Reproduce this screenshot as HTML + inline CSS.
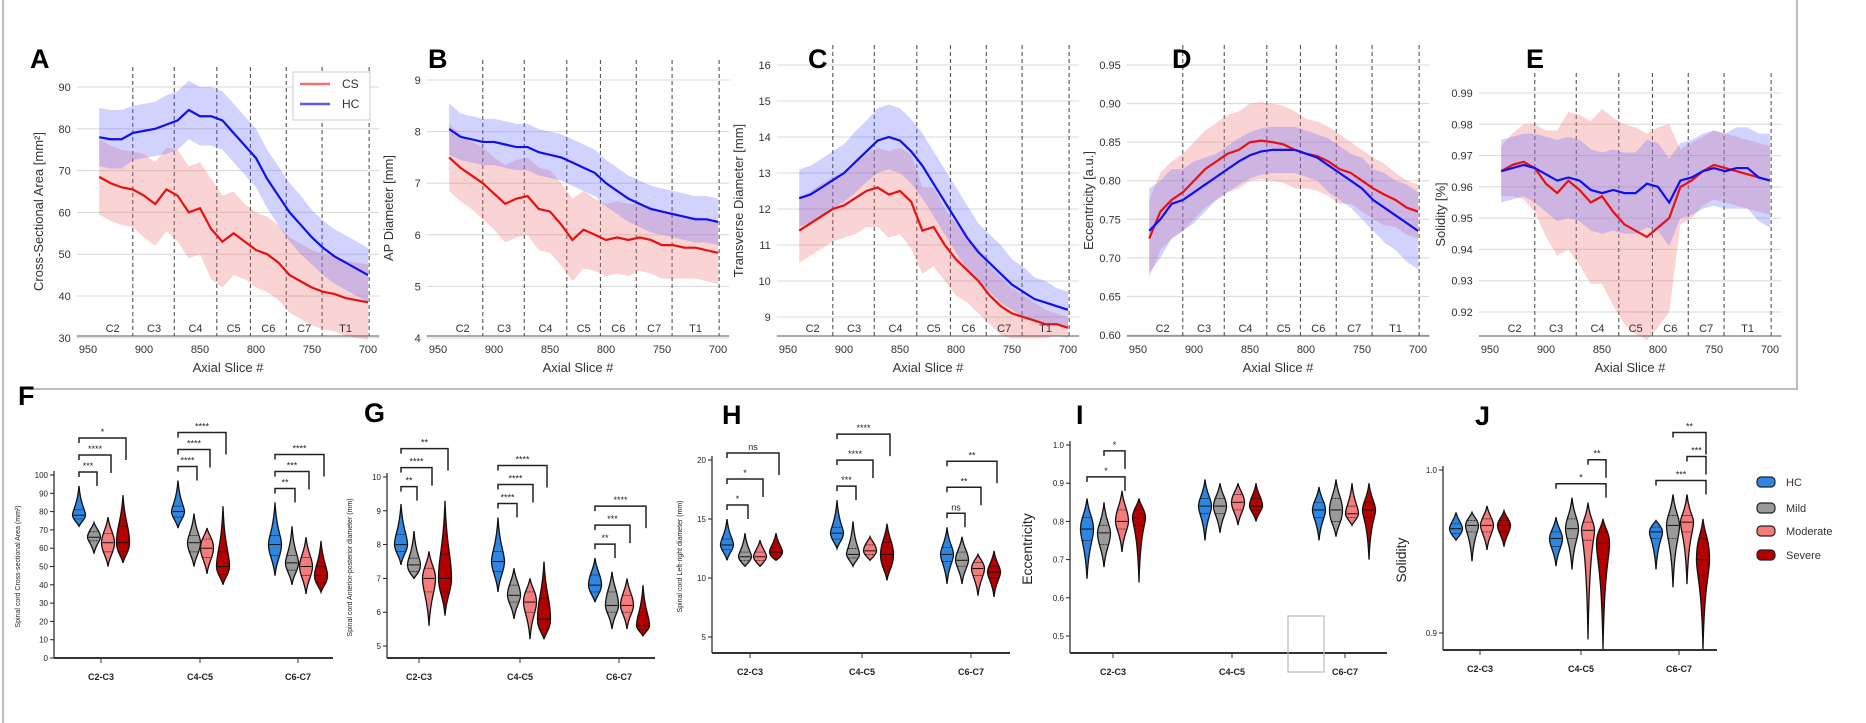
<!DOCTYPE html>
<html><head><meta charset="utf-8"><style>
html,body{margin:0;padding:0;background:#fff;}
svg{display:block;font-family:"Liberation Sans",sans-serif;}
</style></head><body>
<svg id="fig" width="1866" height="723" viewBox="0 0 1866 723" xmlns="http://www.w3.org/2000/svg">
<rect x="0" y="0" width="1866" height="723" fill="#fff"/>
<path d="M3,0 L3,723" stroke="#bbb" stroke-width="2"/>
<path d="M30,389 L1797,389 L1797,0" stroke="#bbb" stroke-width="2" fill="none"/>
<g id="topPanels"></g>
<g id="botPanels"></g>
</svg>
<script>
// ---------- top panel data ----------
const slices = [940,930,920,910,900,890,880,870,860,850,840,830,820,810,800,790,780,770,760,750,740,730,720,710,700];
const boundaries = [910,873,835,805,773,741,699];
const levelNames = ['C2','C3','C4','C5','C6','C7','T1'];
const levelCenters = [928,891,854,820,789,757,720];
const xTicks = [950,900,850,800,750,700];

const aHC = [78,77.5,77.5,79,79.5,80,81,82,84.5,83,83,82,79,76,73,68,64,60,57,54,51.5,49.5,48,46.5,45];
const aHCsd = [7,7,7,6.5,6.5,6.5,7,7,7,7,7,7,7,7,7,7,7,7,7,6.5,6.5,6.5,6.5,6.5,6.5];
const aCS = [68.5,67,66,65.5,64,62,65.5,64,60,61,56,53,55,53,51,50,48,45,43.5,42,41,40.5,39.5,39,38.5];
const aCSsd = [9,9,9,9,10,10,10,11,11,11,12,11,10,9,9,9,9,9,9,9,9,9,9,9,9];

const bHC = [8.05,7.9,7.85,7.8,7.8,7.75,7.7,7.7,7.6,7.55,7.5,7.4,7.3,7.2,7.0,6.85,6.7,6.6,6.5,6.45,6.4,6.35,6.3,6.3,6.25];
const bHCsd = [0.5,0.45,0.45,0.45,0.45,0.45,0.45,0.45,0.45,0.45,0.45,0.45,0.45,0.45,0.45,0.45,0.45,0.45,0.45,0.45,0.45,0.45,0.45,0.45,0.45];
const bCS = [7.5,7.3,7.15,7.0,6.8,6.6,6.7,6.75,6.5,6.45,6.2,5.9,6.1,6.0,5.9,5.95,5.9,5.95,5.9,5.8,5.8,5.75,5.75,5.7,5.65];
const bCSsd = [0.65,0.65,0.65,0.7,0.7,0.75,0.75,0.75,0.8,0.8,0.8,0.8,0.75,0.7,0.7,0.7,0.7,0.65,0.65,0.65,0.65,0.6,0.6,0.6,0.6];

const cHC = [12.3,12.4,12.6,12.8,13.0,13.3,13.6,13.9,14.0,13.9,13.6,13.2,12.7,12.2,11.7,11.2,10.8,10.5,10.2,9.9,9.7,9.5,9.4,9.3,9.2];
const cHCsd = [0.8,0.8,0.8,0.8,0.8,0.85,0.85,0.9,0.9,0.9,0.9,0.9,0.9,0.9,0.9,0.9,0.8,0.8,0.8,0.7,0.7,0.6,0.6,0.5,0.5];
const cCS = [11.4,11.6,11.8,12.0,12.1,12.3,12.5,12.6,12.4,12.5,12.2,11.4,11.5,11.0,10.6,10.3,10.0,9.6,9.3,9.1,9.0,8.9,8.8,8.8,8.7];
const cCSsd = [0.9,0.9,0.9,0.9,0.9,1.0,1.0,1.1,1.2,1.2,1.3,1.2,1.1,1.0,1.0,0.9,0.9,0.8,0.8,0.7,0.6,0.5,0.4,0.3,0.3];

const dHC = [0.735,0.75,0.77,0.775,0.785,0.795,0.805,0.815,0.825,0.833,0.838,0.84,0.84,0.84,0.835,0.83,0.82,0.81,0.80,0.79,0.775,0.765,0.755,0.745,0.735];
const dHCsd = [0.055,0.05,0.045,0.04,0.04,0.035,0.03,0.03,0.03,0.03,0.03,0.03,0.03,0.03,0.03,0.03,0.035,0.035,0.035,0.04,0.04,0.045,0.045,0.05,0.05];
const dCS = [0.725,0.76,0.775,0.785,0.80,0.815,0.825,0.835,0.84,0.85,0.852,0.85,0.847,0.84,0.835,0.832,0.825,0.815,0.81,0.80,0.79,0.782,0.775,0.765,0.76];
const dCSsd = [0.05,0.05,0.05,0.05,0.05,0.05,0.05,0.05,0.05,0.05,0.05,0.05,0.05,0.05,0.045,0.045,0.045,0.045,0.04,0.04,0.04,0.04,0.035,0.035,0.035];

const eHC = [0.965,0.966,0.967,0.966,0.964,0.962,0.963,0.962,0.959,0.958,0.959,0.958,0.958,0.961,0.960,0.955,0.962,0.963,0.965,0.966,0.965,0.966,0.966,0.963,0.962];
const eHCsd = [0.01,0.01,0.01,0.011,0.012,0.013,0.013,0.013,0.013,0.013,0.013,0.013,0.013,0.014,0.014,0.014,0.012,0.012,0.012,0.012,0.012,0.013,0.013,0.014,0.015];
const eCS = [0.965,0.967,0.968,0.966,0.961,0.958,0.962,0.959,0.955,0.957,0.952,0.948,0.946,0.944,0.947,0.95,0.96,0.962,0.965,0.967,0.966,0.965,0.964,0.963,0.962];
const eCSsd = [0.008,0.01,0.012,0.014,0.017,0.02,0.022,0.024,0.026,0.028,0.03,0.032,0.033,0.033,0.032,0.03,0.012,0.012,0.011,0.011,0.011,0.011,0.011,0.011,0.011];

// ---------- violin data: [min, q1, median, q3, max] per group x 4 categories ----------
const groupLabels = ['C2-C3','C4-C5','C6-C7'];
const legendNames = ['HC','Mild','Moderate','Severe'];
const fData = [[[72,76,78,81,94],[57,64,66,69,74],[50,58,63,68,77],[52,58,63,72,89]],
               [[71,77,80,83,97],[50,58,63,67,79],[46,55,60,65,71],[40,46,50,58,83]],
               [[45,56,62,67,85],[40,48,52,56,72],[35,45,50,55,66],[36,41,45,50,64]]];
const gData = [[[7.4,7.8,8.0,8.3,9.2],[7.0,7.2,7.4,7.6,8.4],[5.6,6.6,7.0,7.3,7.8],[5.9,6.6,7.0,7.7,9.3]],
               [[6.6,7.2,7.5,7.8,8.8],[5.8,6.3,6.5,6.8,7.3],[5.2,6.0,6.3,6.6,7.0],[5.2,5.5,5.8,6.4,7.5]],
               [[6.3,6.6,6.8,7.1,7.6],[5.5,6.0,6.2,6.6,7.2],[5.5,6.0,6.2,6.5,7.0],[5.3,5.5,5.6,5.9,6.8]]];
const hData = [[[11.5,12.4,12.8,13.3,15.0],[11.0,11.5,11.8,12.2,13.8],[11.0,11.5,11.8,12.2,13.2],[11.5,11.9,12.2,12.6,13.8]],
               [[12.5,13.3,13.8,14.3,16.6],[11.0,11.7,12.0,12.5,14.8],[11.5,12.0,12.3,12.8,13.5],[9.8,11.0,12.0,13.0,14.6]],
               [[9.5,11.4,12.0,12.6,14.3],[9.5,11.0,11.5,12.2,13.5],[8.5,10.2,10.8,11.3,12.0],[8.4,10.0,10.5,11.0,12.3]]];
const iData = [[[0.65,0.75,0.78,0.81,0.86],[0.68,0.74,0.77,0.79,0.85],[0.72,0.78,0.80,0.83,0.88],[0.64,0.79,0.81,0.83,0.86]],
               [[0.75,0.82,0.84,0.86,0.91],[0.77,0.82,0.84,0.86,0.90],[0.79,0.83,0.85,0.87,0.90],[0.80,0.83,0.84,0.86,0.90]],
               [[0.75,0.81,0.83,0.85,0.89],[0.76,0.80,0.83,0.86,0.91],[0.79,0.81,0.82,0.84,0.90],[0.70,0.81,0.83,0.85,0.90]]];
const jData = [[[0.957,0.961,0.964,0.967,0.974],[0.944,0.962,0.966,0.969,0.974],[0.951,0.962,0.966,0.970,0.978],[0.953,0.962,0.966,0.969,0.975]],
               [[0.941,0.953,0.958,0.962,0.971],[0.939,0.958,0.964,0.970,0.983],[0.896,0.957,0.963,0.968,0.980],[0.890,0.945,0.955,0.962,0.970]],
               [[0.939,0.958,0.962,0.965,0.969],[0.928,0.958,0.966,0.972,0.985],[0.930,0.962,0.968,0.972,0.985],[0.890,0.935,0.945,0.958,0.970]]];
// significance annotations: [group, catA, catB, label]
const fSig = [[0,0,1,'***'],[0,0,2,'****'],[0,0,3,'*'],[1,0,1,'****'],[1,0,2,'****'],[1,0,3,'****'],[2,0,1,'**'],[2,0,2,'***'],[2,0,3,'****']];
const gSig = [[0,0,1,'**'],[0,0,2,'****'],[0,0,3,'**'],[1,0,1,'****'],[1,0,2,'****'],[1,0,3,'****'],[2,0,1,'**'],[2,0,2,'***'],[2,0,3,'****']];
const hSig = [[0,0,1,'*'],[0,0,2,'*'],[0,0,3,'ns'],[1,0,1,'***'],[1,0,2,'****'],[1,0,3,'****'],[2,0,1,'ns'],[2,0,2,'**'],[2,0,3,'**']];
const iSig = [[0,0,2,'*'],[0,1,2,'*']];
const jSig = [[1,0,3,'*'],[1,2,3,'**'],[2,0,3,'***'],[2,2,3,'***'],[2,1,3,'**']];

const fTicks = [0,10,20,30,40,50,60,70,80,90,100];
const gTicks = [5,6,7,8,9,10];
const hTicks = [5,10,15,20];
const iTicks = [0.5,0.6,0.7,0.8,0.9,1.0];
const jTicks = [0.9,1.0];

const NS='http://www.w3.org/2000/svg';
function mk(tag, attrs, parent){const e=document.createElementNS(NS,tag);for(const k in attrs)e.setAttribute(k,attrs[k]);parent.appendChild(e);return e;}
const topG=document.getElementById('topPanels'), botG=document.getElementById('botPanels');

// ---------- top line panels ----------
const panels=[
 {L:'A',title:'Cross-Sectional Area [mm²]',x0:88,lx:30,v0:90,y0:87,v1:40,y1:296,ticks:[30,40,50,60,70,80,90],fmt:v=>v,hc:aHC,hcs:aHCsd,cs:aCS,css:aCSsd,legend:true},
 {L:'B',title:'AP Diameter [mm]',x0:438,lx:428,v0:9,y0:80,v1:4,y1:338,ticks:[4,5,6,7,8,9],fmt:v=>v,hc:bHC,hcs:bHCsd,cs:bCS,css:bCSsd},
 {L:'C',title:'Transverse Diameter [mm]',x0:788,lx:808,v0:16,y0:65,v1:9,y1:317,ticks:[9,10,11,12,13,14,15,16],fmt:v=>v,hc:cHC,hcs:cHCsd,cs:cCS,css:cCSsd},
 {L:'D',title:'Eccentricity [a.u.]',x0:1138,lx:1172,v0:0.95,y0:65,v1:0.60,y1:335,ticks:[0.60,0.65,0.70,0.75,0.80,0.85,0.90,0.95],fmt:v=>v.toFixed(2),hc:dHC,hcs:dHCsd,cs:dCS,css:dCSsd},
 {L:'E',title:'Solidity [%]',x0:1490,lx:1526,v0:0.99,y0:93,v1:0.92,y1:312,ticks:[0.92,0.93,0.94,0.95,0.96,0.97,0.98,0.99],fmt:v=>v.toFixed(2),hc:eHC,hcs:eHCsd,cs:eCS,css:eCSsd}
];
const AX=336;
panels.forEach(p=>{
 const g=mk('g',{},topG);
 
 
 const X=s=>p.x0+(950-s)/250*280;
 const Y=v=>p.y0+(v-p.v0)*(p.y1-p.y0)/(p.v1-p.v0);
 const left=X(960), right=X(690);
 p.ticks.forEach(t=>{
  const gl=mk('line',{x1:left,x2:right,y1:Y(t),y2:Y(t),stroke:'#d8d8d8','stroke-width':1},g);
  
  
  const tl=mk('text',{x:left-6,y:Y(t)+4,'font-size':11,'text-anchor':'end',fill:'#333'},g);
  tl.textContent=p.fmt(t);
  
  
 });
 boundaries.forEach(b=>{
  const l=mk('line',{x1:X(b),x2:X(b),y1:p.y0-20,y2:AX,stroke:'#444','stroke-width':1,'stroke-dasharray':'4,3'},g);
  
  
 });
 const band=(m,s,col,name)=>{
  let d='M'+slices.map((sl,i)=>X(sl)+','+Y(m[i]+s[i])).join(' L');
  d+=' L'+slices.slice().reverse().map((sl,j)=>{const i=slices.length-1-j;return X(sl)+','+Y(m[i]-s[i]);}).join(' L')+'Z';
  const e=mk('path',{d:d,fill:col,'fill-opacity':0.3,stroke:'none'},g);
  
  
 };
 band(p.cs,p.css,'#f07070','cs-band');
 band(p.hc,p.hcs,'#6a6aff','hc-band');
 const line=(m,col,name)=>{
  const e=mk('path',{d:'M'+slices.map((sl,i)=>X(sl)+','+Y(m[i])).join(' L'),fill:'none',stroke:col,'stroke-width':2.2},g);
  
  
 };
 line(p.cs,'#e81010','cs-mean-line');
 line(p.hc,'#1010f0','hc-mean-line');
 const ax=mk('line',{x1:left,x2:right,y1:AX,y2:AX,stroke:'#555','stroke-width':1},g);
 
 
 levelNames.forEach((n,i)=>{
  const t=mk('text',{x:X(levelCenters[i]),y:AX-4,'font-size':11,'text-anchor':'middle',fill:'#333'},g);
  t.textContent=n;
  
  
 });
 xTicks.forEach(t=>{
  const e=mk('text',{x:X(t),y:AX+17,'font-size':11,'text-anchor':'middle',fill:'#333'},g);
  e.textContent=t;
  
  
 });
 const xt=mk('text',{x:(left+right)/2,y:AX+36,'font-size':13,'text-anchor':'middle',fill:'#333'},g);
 xt.textContent='Axial Slice #';
 
 
 const yx=left-34, yc=(p.y0+AX)/2;
 const yt=mk('text',{x:yx,y:yc,'font-size':13,'text-anchor':'middle',fill:'#333',transform:'rotate(-90 '+yx+' '+yc+')'},g);
 yt.textContent=p.title;
 
 
 const lt=mk('text',{x:p.lx,y:68,'font-size':27,'font-weight':'bold',fill:'#000'},g);
 lt.textContent=p.L;
 
 
 if(p.legend){
  const lg=mk('g',{},g);
  
  
  mk('rect',{x:293,y:72,width:77,height:48,fill:'#fff',stroke:'#ccc'},lg);
  [['CS','#f07070',88],['HC','#5a5af0',108]].forEach(r=>{
   mk('line',{x1:300,x2:330,y1:r[2]-4,y2:r[2]-4,stroke:r[1],'stroke-width':2.5},lg);
   const t=mk('text',{x:342,y:r[2],'font-size':12,fill:'#333'},lg);
   t.textContent=r[0];
   
   
  });
 }
});

// ---------- violin panels ----------
const colors=['#2f86e0','#9a9a9a','#f47c7c','#b30000'];
const vpanels=[
 {L:'F',lx:18,ly:405,ax:54,v0:100,y0:475,v1:0,y1:658,axEnd:333,base:658,ticks:fTicks,fmt:v=>v,data:fData,sig:fSig,title:'Spinal cord Cross-sectional Area (mm²)',ts:7,tx:20,
  xs:[[79,94,108,123],[178,194,207,223],[275,292,306,321]],lab:[101,200,298],sp:17},
 {L:'G',lx:364,ly:422,ax:387,v0:10,y0:477,v1:5,y1:646,axEnd:655,base:658,ticks:gTicks,fmt:v=>v,data:gData,sig:gSig,title:'Spinal cord Anterior-posterior diameter (mm)',ts:7,tx:352,
  xs:[[401,414,429,445],[498,514,530,544],[595,612,627,643]],lab:[419,520,619],sp:19},
 {L:'H',lx:722,ly:424,ax:712,v0:20,y0:460,v1:5,y1:637,axEnd:1010,base:653,ticks:hTicks,fmt:v=>v,data:hData,sig:hSig,title:'Spinal cord Left-right diameter (mm)',ts:7,tx:682,
  xs:[[727,745,760,776],[837,853,870,887],[947,962,978,994]],lab:[750,862,971],sp:26},
 {L:'I',lx:1076,ly:424,ax:1070,v0:1.0,y0:445,v1:0.5,y1:636,axEnd:1387,base:653,ticks:iTicks,fmt:v=>v.toFixed(1),data:iData,sig:iSig,title:'Eccentricity',ts:14,tx:1032,
  xs:[[1087,1104,1122,1139],[1205,1220,1238,1256],[1319,1336,1352,1369]],lab:[1113,1232,1345],sp:26},
 {L:'J',lx:1475,ly:425,ax:1443,v0:1.0,y0:470,v1:0.9,y1:633,axEnd:1717,base:650,ticks:jTicks,fmt:v=>v.toFixed(1),data:jData,sig:jSig,title:'Solidity',ts:14,tx:1406,
  xs:[[1456,1472,1487,1504],[1556,1572,1588,1603],[1656,1673,1687,1703]],lab:[1480,1581,1679],sp:24}
];
vpanels.forEach(p=>{
 const g=mk('g',{},botG);
 
 
 const Y=v=>p.y0+(v-p.v0)*(p.y1-p.y0)/(p.v1-p.v0);
 const lt=mk('text',{x:p.lx,y:p.ly,'font-size':27,'font-weight':'bold',fill:'#000'},g);
 lt.textContent=p.L;
 
 
 mk('line',{x1:p.ax,x2:p.ax,y1:p.y0-4,y2:p.base,stroke:'#222','stroke-width':1.2},g);
 mk('line',{x1:p.ax,x2:p.axEnd,y1:p.base,y2:p.base,stroke:'#333','stroke-width':2},g);
 p.ticks.forEach(t=>{
  mk('line',{x1:p.ax-4,x2:p.ax,y1:Y(t),y2:Y(t),stroke:'#222'},g);
  const e=mk('text',{x:p.ax-6,y:Y(t)+3,'font-size':8,'text-anchor':'end',fill:'#222'},g);
  e.textContent=p.fmt(t);
  
  
 });
 const yc=(p.y0+p.base)/2;
 const yt=mk('text',{x:p.tx,y:yc,'font-size':p.ts,'text-anchor':'middle',fill:'#222',transform:'rotate(-90 '+p.tx+' '+yc+')'},g);
 yt.textContent=p.title;
 
 
 const tops=[];
 p.data.forEach((grp,gi)=>{
  let tmax=1e9;
  grp.forEach((st,ci)=>{
   const cx=p.xs[gi][ci], w=6.5;
   const yMin=Y(st[0]),yQ1=Y(st[1]),yMed=Y(st[2]),yQ3=Y(st[3]),yMax=Y(st[4]);
   tmax=Math.min(tmax,yMax);
   const d='M'+cx+','+yMax+' C'+(cx-1.5)+','+(yQ3-4)+' '+(cx-w)+','+(yQ3)+' '+(cx-w)+','+yMed+
     ' C'+(cx-w)+','+yQ1+' '+(cx-1.5)+','+(yQ1+4)+' '+cx+','+yMin+
     ' C'+(cx+1.5)+','+(yQ1+4)+' '+(cx+w)+','+yQ1+' '+(cx+w)+','+yMed+
     ' C'+(cx+w)+','+yQ3+' '+(cx+1.5)+','+(yQ3-4)+' '+cx+','+yMax+'Z';
   const v=mk('path',{d:d,fill:colors[ci],stroke:'#111','stroke-width':1.3},g);
   
   
   mk('line',{x1:cx-w+1,x2:cx+w-1,y1:yMed,y2:yMed,stroke:'#111','stroke-width':1},g);
   mk('line',{x1:cx-w+2,x2:cx+w-2,y1:yQ1,y2:yQ1,stroke:'#111','stroke-width':0.7,'stroke-dasharray':'2,1'},g);
   mk('line',{x1:cx-w+2,x2:cx+w-2,y1:yQ3,y2:yQ3,stroke:'#111','stroke-width':0.7,'stroke-dasharray':'2,1'},g);
  });
  tops.push(tmax);
  mk('line',{x1:p.lab[gi],x2:p.lab[gi],y1:p.base,y2:p.base+5,stroke:'#333'},g);
  const lbl=mk('text',{x:p.lab[gi],y:p.base+22,'font-size':9,'font-weight':'bold','text-anchor':'middle',fill:'#222'},g);
  lbl.textContent=groupLabels[gi];
  
  
 });
 const counts=[0,0,0];
 p.sig.forEach(s=>{
  const gi=s[0], k=counts[gi]++;
  const y=tops[gi]-14-k*p.sp;
  const xa=p.xs[gi][s[1]], xb=p.xs[gi][s[2]]+3;
  const b=mk('path',{d:'M'+xa+','+(y+5)+' L'+xa+','+y+' L'+xb+','+y+' L'+xb+','+(y+14+k*4),fill:'none',stroke:'#222','stroke-width':1.5},g);
  
  
  const t=mk('text',{x:(xa+xb)/2,y:y-3,'font-size':9,'text-anchor':'middle',fill:'#222'},g);
  t.textContent=s[3];
  
  
 });
});
const gb=mk('rect',{x:1288,y:616,width:36,height:56,fill:'none',stroke:'#bbb','stroke-width':1.2},botG);


// violin legend
const vl=mk('g',{},botG);


const legendY=[482,508,531,555];
legendNames.forEach((n,i)=>{
 mk('rect',{x:1757,y:legendY[i]-5,width:18,height:10,rx:4,fill:colors[i],stroke:'#222','stroke-width':1.2},vl);
 const t=mk('text',{x:1786,y:legendY[i]+4,'font-size':11,fill:'#333'},vl);
 t.textContent=n;
 
 
});
</script>
</body></html>
